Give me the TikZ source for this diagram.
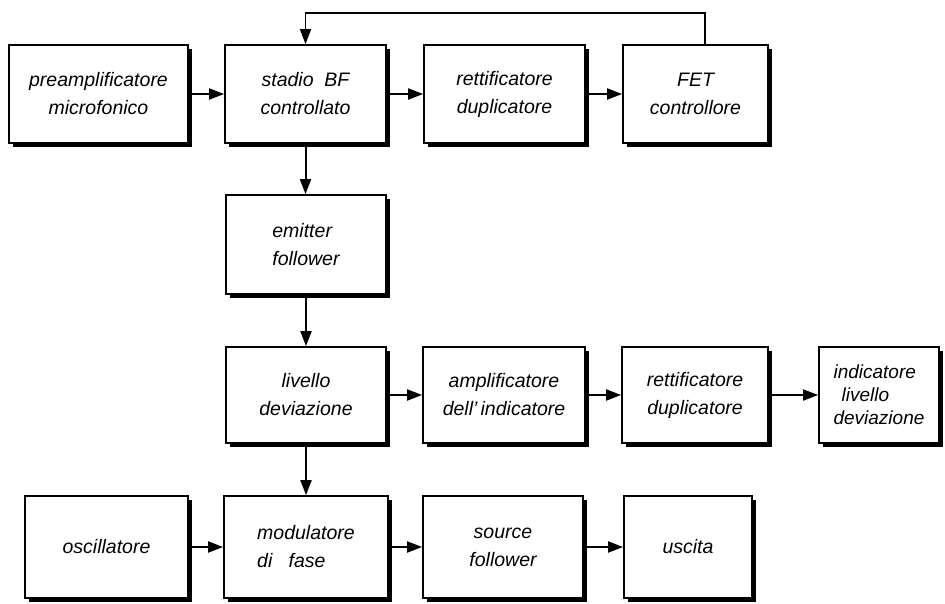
\documentclass[tikz,border=0pt]{standalone}
\usepackage{fontspec}
\setmainfont{Liberation Sans}
\usetikzlibrary{arrows.meta,shadows}
\tikzset{
  blk/.style={draw=black, line width=1.8pt, fill=white, inner sep=0pt,
    font=\itshape\fontsize{19.5}{28}\selectfont, align=center,
    drop shadow={shadow xshift=4pt, shadow yshift=-4pt, fill=black, opacity=1}},
  arr/.style={line width=2pt, -{Triangle[length=15pt,width=11pt]}},
  fbline/.style={line width=1.6pt, -{Triangle[length=15pt,width=11pt]}}
}
\newcommand{\bx}[7]{% name, x1, x2, y1, y2, options, text
  \node[blk, minimum width={#3-#2}, minimum height={#5-#4}, #6] (#1) at ({(#2+#3)/2},{(#4+#5)/2}) {#7};}
\begin{document}
\begin{tikzpicture}[x=1pt,y=-1pt]
\useasboundingbox (0,0) rectangle (945,603);
% row 1
\bx{pre}{9}{188}{45}{143}{}{preamplificatore\\microfonico}
\bx{sta}{225}{386}{45}{143}{}{stadio\ \ BF\\controllato}
\bx{ret1}{424}{585}{45}{143}{}{rettificatore\\duplicatore}
\bx{fet}{623}{768}{45}{143}{}{FET\\controllore}
% row 2
\bx{emi}{226}{386}{195}{294}{align=left}{emitter\\follower}
% row 3
\bx{liv}{226}{386}{347}{443}{}{livello\\deviazione}
\bx{amp}{423}{585}{347}{443}{}{amplificatore\\dell'\,indicatore}
\bx{ret2}{622}{768}{347}{443}{}{rettificatore\\duplicatore}
\bx{ind}{819}{939}{347}{443}{align=left, font=\itshape\fontsize{19}{23}\selectfont}{indicatore\\\hspace{8pt}livello\\deviazione}
% row 4
\bx{osc}{25}{188}{496}{598}{}{oscillatore}
\bx{mod}{224}{388}{496}{598}{align=left}{modulatore\\di\ \ \ fase}
\bx{src}{423}{583}{496}{598}{}{source\\follower}
\bx{usc}{624}{752}{496}{598}{}{uscita}
% connectors
\draw[arr] (pre.east) -- (sta.west);
\draw[arr] (sta.east) -- (ret1.west);
\draw[arr] (ret1.east) -- (fet.west);
\coordinate (fb) at (705,13);
\draw[fbline] (fet.north -| fb) -- (fb) -| (sta.north);
\draw[arr] (sta.south) -- (sta.south |- emi.north);
\draw[arr] (emi.south) -- (emi.south |- liv.north);
\draw[arr] (liv.south) -- (liv.south |- mod.north);
\draw[arr] (liv.east) -- (amp.west);
\draw[arr] (amp.east) -- (ret2.west);
\draw[arr] (ret2.east) -- (ind.west);
\draw[arr] (osc.east) -- (mod.west);
\draw[arr] (mod.east) -- (src.west);
\draw[arr] (src.east) -- (usc.west);
\end{tikzpicture}
\end{document}
